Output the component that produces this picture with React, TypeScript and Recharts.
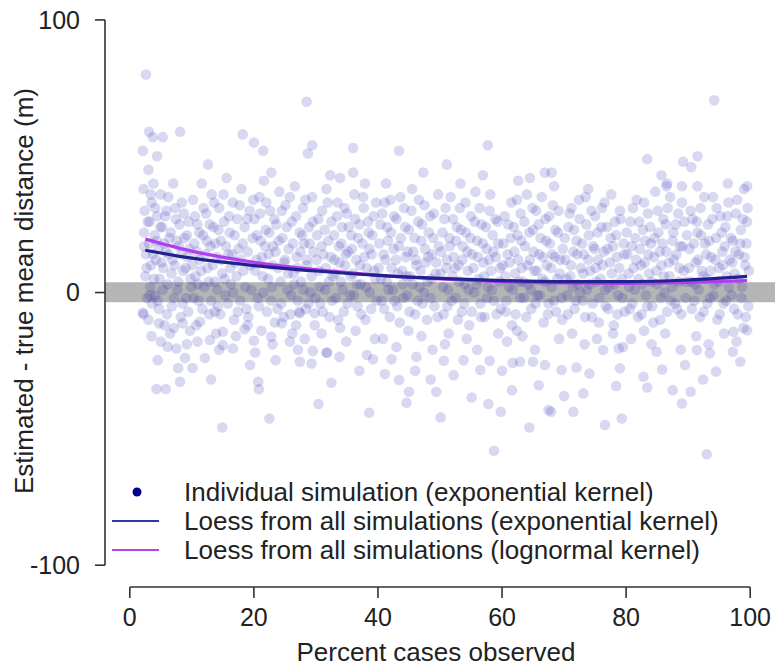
import React from "react";
import {
  ComposedChart,
  Scatter,
  Line,
  Area,
  XAxis,
  YAxis,
  ReferenceLine,
  Legend,
} from "recharts";

const FONT = "'Liberation Sans', Arial, sans-serif";

const xTicks = [0, 20, 40, 60, 80, 100];
const yTicks = [-100, 0, 100];

const sims00to10 = [
  [2.2, 38], [2.4, 30], [2.3, 22], [2.6, 14], [2.5, 6], [2.8, -2], [2.2, -8], [3.0, 45], [3.2, 26], [3.1, 18],
  [3.4, 10], [3.3, 2], [3.6, -4], [3.5, 33], [3.8, 40], [4.0, 21], [4.2, 12], [4.1, -1], [4.4, 28], [4.6, 16],
  [4.8, 5], [4.7, -6], [5.0, 36], [5.2, 24], [5.4, 9], [5.6, -12], [5.5, 18], [5.9, 30], [6.1, 3], [6.3, 14],
  [6.6, 22], [6.8, -5], [7.0, 40], [7.2, 10], [7.4, 27], [7.7, 1], [7.9, 17], [8.2, -9], [8.4, 33], [8.6, 8],
  [8.8, 20], [9.1, -2], [9.3, 13], [9.5, 26], [9.8, 5], [9.7, -14],
  [2.3, 17], [2.7, 9], [2.9, 26], [3.2, -1], [3.4, 36], [3.7, 14], [3.9, 5], [4.1, 31], [4.3, 19], [4.5, -3],
  [4.9, 24], [5.1, 11], [5.3, 1], [5.7, 28], [5.8, 15], [6.0, -8], [6.2, 35], [6.4, 20], [6.7, 7], [6.9, 12],
  [7.1, -2], [7.3, 31], [7.6, 19], [7.8, 4], [8.0, 25], [8.3, 14], [8.5, -4], [8.7, 29], [9.0, 9], [9.2, 21],
  [9.4, -7], [9.6, 16], [9.9, 2], [3.0, -10], [6.5, -15], [3.5, -16], [5.0, -18], [7.1, -13], [9.2, -19],
  [2.6, 80], [3.1, 59], [3.7, 57], [5.3, 57], [8.1, 59], [2.1, 52], [4.4, 50], [2.1, -7.4], [4.7, -11.3],
  [8.5, -11.3], [4.3, -35.4], [5.8, -35.4], [8.1, -32.7], [4.5, -24.8], [7.8, -27.7], [6.1, -19.9],
  [7.5, -20.5], [8.9, -24],
];

const sims10to20 = [
  [10.2, 34], [10.4, 18], [10.6, 6], [10.9, 25], [11.1, -3], [11.3, 12], [11.6, 40], [11.8, 21], [12.0, 2],
  [12.3, 29], [12.5, 9], [12.8, -8], [13.0, 17], [13.2, 36], [13.5, 24], [13.7, 4], [14.0, 13], [14.2, -5],
  [14.4, 31], [14.7, 19], [14.9, 7], [15.2, 26], [15.4, -1], [15.6, 42], [15.9, 14], [16.1, 22], [16.3, 3],
  [16.6, 33], [16.8, -10], [17.0, 11], [17.3, 27], [17.5, 16], [17.8, -3], [18.0, 38], [18.3, 8], [18.5, 24],
  [18.8, -6], [19.0, 15], [19.3, 30], [19.6, 1], [19.8, 20], [10.7, -12], [13.9, -15],
  [10.1, 10], [10.3, -2], [10.5, 28], [10.8, 15], [11.0, 3], [11.2, 22], [11.5, 8], [11.7, -6], [11.9, 31],
  [12.2, 14], [12.4, 19], [12.7, 4], [12.9, 25], [13.1, -3], [13.4, 10], [13.6, 33], [13.8, 18], [14.1, 1],
  [14.3, 23], [14.6, -8], [14.8, 12], [15.1, 36], [15.3, 5], [15.5, 17], [15.8, -4], [16.0, 28], [16.2, 9],
  [16.5, 14], [16.7, 0], [16.9, 21], [17.2, 6], [17.4, -7], [17.7, 32], [17.9, 12], [18.2, 18], [18.6, 2],
  [18.9, 27], [19.1, -9], [19.5, 10], [19.9, 34], [10.9, -18], [14.4, -21], [17.1, -16], [19.0, -12],
  [10.1, -27.7], [11.3, -10.7], [12.1, -24], [12.6, 47], [13.1, -31.9], [12.9, -17.4], [13.7, -7],
  [14.9, -49.5], [15, -19.3], [15, -14.4], [16.6, -20.5], [18.2, 58], [18.5, -13.5], [19.4, -26.6],
];

const sims20to30 = [
  [20.1, 27], [20.4, 12], [20.6, -2], [20.9, 35], [21.1, 19], [21.4, 6], [21.6, 41], [21.9, 23], [22.1, -7],
  [22.4, 14], [22.6, 30], [22.9, 2], [23.1, 17], [23.4, -11], [23.6, 25], [23.9, 9], [24.1, 37], [24.4, -4],
  [24.6, 20], [24.9, 11], [25.1, 32], [25.4, 1], [25.6, 16], [25.9, -8], [26.1, 26], [26.4, 7], [26.6, 39],
  [26.9, 13], [27.1, -3], [27.4, 22], [27.6, 4], [27.9, 31], [28.1, 18], [28.4, -6], [28.6, 10], [28.9, 24],
  [29.1, 0], [29.4, 35], [29.6, 15], [29.8, -12], [22.8, 44], [26.2, -15],
  [20.2, 8], [20.5, 21], [20.8, -5], [21.0, 29], [21.3, 13], [21.5, 0], [21.8, 17], [22.0, 33], [22.3, 5],
  [22.5, 22], [22.8, -3], [23.0, 10], [23.3, 27], [23.5, 15], [23.8, -6], [24.0, 19], [24.3, 4], [24.5, 30],
  [24.8, -9], [25.0, 12], [25.3, 24], [25.5, 7], [25.8, 35], [26.0, -1], [26.3, 18], [26.5, 3], [26.8, 28],
  [27.0, 9], [27.3, -7], [27.5, 15], [27.8, 21], [28.0, 1], [28.3, 34], [28.5, 12], [28.8, -4], [29.0, 18],
  [29.3, 6], [29.5, 26], [29.9, -2], [21.2, -14], [23.0, -19], [26.8, -12], [28.2, -17],
  [20, 55], [21.5, 52], [28.5, 70], [29.4, 54], [28.7, 51], [20.7, -32.7], [20.8, -35.5], [22.5, -46.2],
  [20.2, -22], [20, -17.7], [22.8, -16.2], [23.5, -24.8], [24.5, -11.3], [25.8, -18], [27.1, -21],
  [27.4, -25.4], [27.4, -7.6], [29.3, -26], [29.5, -21.4], [29.8, -7.6],
];

const sims30to40 = [
  [30.2, 21], [30.5, 8], [30.7, -4], [31.0, 30], [31.2, 14], [31.5, 1], [31.7, 38], [32.0, 19], [32.2, -9],
  [32.5, 26], [32.7, 6], [33.0, 12], [33.2, -2], [33.5, 33], [33.7, 17], [34.0, 4], [34.2, 24], [34.5, -7],
  [34.7, 10], [35.0, 29], [35.2, 15], [35.5, -1], [35.7, 21], [36.0, 7], [36.2, 36], [36.5, 12], [36.7, -5],
  [37.0, 25], [37.2, 3], [37.5, 18], [37.7, 31], [38.0, -10], [38.2, 9], [38.5, 22], [38.7, 0], [39.0, 14],
  [39.3, 28], [39.6, 5], [39.8, -3], [33.9, -13], [37.9, 40],
  [30.1, 12], [30.4, 27], [30.6, 2], [30.9, 17], [31.1, -7], [31.4, 23], [31.6, 9], [31.9, 33], [32.1, 4],
  [32.4, 13], [32.6, -3], [32.9, 21], [33.1, 7], [33.4, 28], [33.6, -10], [33.8, 11], [34.1, 18], [34.3, 1],
  [34.6, 31], [34.8, 14], [35.1, -4], [35.3, 24], [35.6, 6], [35.8, 16], [36.1, -1], [36.3, 27], [36.6, 3],
  [36.8, 20], [37.1, 10], [37.3, -8], [37.6, 35], [37.8, 13], [38.1, 2], [38.4, 26], [38.6, 16], [38.9, -6],
  [39.1, 21], [39.4, 8], [39.7, 33], [30.9, -15], [34.9, -18], [36.4, -14], [39.5, -17],
  [30.4, -40.9], [31.8, -22], [32.3, 43], [33.9, 42], [36, 44], [36, 53], [32.5, -33.1], [31.7, -22.1],
  [33.8, -23.6], [37, -28.7], [38.2, -22.9], [39.2, -24.5], [38.6, -44.1],
];

const sims40to50 = [
  [40.2, 18], [40.5, 5], [40.7, 29], [41.0, -6], [41.2, 12], [41.5, 24], [41.7, 1], [42.0, 34], [42.2, 9],
  [42.5, 16], [42.7, -3], [43.0, 27], [43.2, 7], [43.5, -11], [43.7, 20], [44.0, 3], [44.2, 31], [44.5, 13],
  [44.7, -1], [45.0, 23], [45.2, 6], [45.5, 38], [45.7, 15], [46.0, -8], [46.2, 10], [46.5, 26], [46.7, 2],
  [47.0, 19], [47.2, -4], [47.5, 32], [47.7, 11], [48.0, 4], [48.2, 22], [48.5, -2], [48.7, 14], [49.0, 29],
  [49.3, 7], [49.6, -9], [49.8, 17], [44.9, -14], [41.3, 40],
  [40.1, 9], [40.4, 25], [40.6, -3], [40.9, 14], [41.1, 33], [41.4, 4], [41.6, 19], [41.9, -9], [42.1, 22],
  [42.4, 1], [42.6, 28], [42.9, 12], [43.1, -5], [43.4, 17], [43.6, 35], [43.9, 8], [44.1, -2], [44.4, 24],
  [44.6, 6], [44.8, 15], [45.1, -7], [45.4, 30], [45.6, 3], [45.9, 20], [46.1, 12], [46.4, -3], [46.6, 34],
  [46.9, 8], [47.1, 25], [47.4, 0], [47.6, 16], [47.9, -10], [48.1, 13], [48.4, 28], [48.6, 5], [48.9, 20],
  [49.1, -5], [49.4, 11], [49.7, 36], [40.8, -17], [43.0, -20], [47.0, -16], [48.8, -21],
  [43.4, 52], [47.3, 44], [41.1, -29.9], [42.2, -24.5], [43.4, -32.1], [44.6, -40.4], [45, -36.4],
  [46, -28.7], [46.2, -23.6], [48.5, -31.9], [49.4, -36.4],
];

const sims50to60 = [
  [50.2, 15], [50.5, 2], [50.7, 27], [51.0, 9], [51.2, -5], [51.5, 20], [51.7, 35], [52.0, 6], [52.2, 13],
  [52.5, -2], [52.7, 24], [53.0, 10], [53.2, 31], [53.5, -7], [53.7, 17], [54.0, 3], [54.2, 22], [54.5, 8],
  [54.7, -12], [55.0, 28], [55.2, 14], [55.5, 0], [55.7, 37], [56.0, 19], [56.2, 5], [56.5, -4], [56.7, 25],
  [57.0, 11], [57.2, -9], [57.5, 16], [57.7, 2], [58.0, 30], [58.2, 8], [58.5, 21], [58.7, -3], [59.0, 13],
  [59.3, 26], [59.6, 4], [59.8, -6], [53.3, 40], [51.4, -15],
  [50.1, 7], [50.4, 22], [50.6, -8], [50.9, 31], [51.1, 12], [51.3, 1], [51.6, 17], [51.9, -3], [52.1, 27],
  [52.4, 9], [52.6, 19], [52.9, -10], [53.1, 4], [53.4, 23], [53.6, 12], [53.9, -4], [54.1, 33], [54.4, 15],
  [54.6, 1], [54.9, 20], [55.1, -7], [55.4, 9], [55.6, 26], [55.9, 3], [56.1, 13], [56.4, 31], [56.6, -9],
  [56.9, 18], [57.1, 6], [57.4, 24], [57.6, -2], [57.9, 12], [58.1, 36], [58.4, 1], [58.6, 15], [58.9, 27],
  [59.1, -8], [59.4, 18], [59.7, 9], [50.8, -19], [54.3, -17], [56.0, -21], [59.4, -15],
  [51.1, 47], [56.9, 43], [57.7, 54], [50.1, -45.8], [50.6, -25], [52.2, -30.3], [53.8, -24.8],
  [55.1, -38.5], [56.5, -28.4], [57.8, -40.9], [58, -25], [58.7, -58],
];

const sims60to70 = [
  [60.2, 18], [60.5, 6], [60.7, -3], [61.0, 25], [61.2, 11], [61.5, 33], [61.7, 1], [62.0, 15], [62.2, -8],
  [62.5, 21], [62.7, 4], [63.0, 29], [63.2, 9], [63.5, -2], [63.7, 17], [64.0, 36], [64.2, 3], [64.5, 12],
  [64.7, -6], [65.0, 23], [65.2, 8], [65.5, 30], [65.7, -1], [66.0, 14], [66.2, 20], [66.5, 5], [66.7, -11],
  [67.0, 27], [67.2, 10], [67.5, -4], [67.7, 18], [68.0, 2], [68.2, 32], [68.5, 13], [68.7, -7], [69.0, 22],
  [69.3, 7], [69.6, -2], [69.8, 16], [62.4, -14], [68.4, 39],
  [60.1, 10], [60.4, 28], [60.6, -7], [60.9, 14], [61.1, 2], [61.4, 20], [61.6, -12], [61.9, 24], [62.1, 7],
  [62.4, 34], [62.6, 12], [62.9, -2], [63.1, 19], [63.4, 4], [63.6, 26], [63.9, -9], [64.1, 10], [64.4, 22],
  [64.6, 1], [64.9, 31], [65.1, 15], [65.4, -4], [65.6, 8], [65.9, 25], [66.1, -1], [66.4, 35], [66.6, 13],
  [66.9, 4], [67.1, 19], [67.4, -8], [67.6, 28], [67.9, 9], [68.1, 14], [68.4, -3], [68.6, 23], [68.9, 5],
  [69.1, 30], [69.4, 12], [69.7, -10], [60.8, -18], [63.3, -16], [65.3, -21], [69.2, -17],
  [62.6, 41], [64.5, 42], [66.9, 44], [68, 44], [59.8, -43.7], [60, -28.7], [61.6, -35.8], [61.7, -25.8],
  [62.9, -25.4], [64.4, -49.5], [65, -25.4], [65.9, -34], [66.9, -26.6], [67.5, -43.1], [67.9, -43.7],
  [69.6, -28.4],
];

const sims70to80 = [
  [70.2, 12], [70.5, -1], [70.7, 24], [71.0, 6], [71.2, 31], [71.5, 15], [71.7, -6], [72.0, 19], [72.2, 3],
  [72.5, 27], [72.7, 9], [73.0, -3], [73.2, 14], [73.5, 35], [73.7, 1], [74.0, 21], [74.2, 8], [74.5, -9],
  [74.7, 17], [75.0, 28], [75.2, 4], [75.5, 12], [75.7, -2], [76.0, 24], [76.2, 10], [76.5, 33], [76.7, -5],
  [77.0, 16], [77.2, 2], [77.5, 20], [77.7, 7], [78.0, -12], [78.2, 26], [78.5, 13], [78.7, -1], [79.0, 30],
  [79.3, 5], [79.6, 18], [79.8, -7], [73.9, 38], [77.9, -15],
  [70.1, 20], [70.4, 5], [70.6, -8], [70.9, 29], [71.1, 10], [71.4, 2], [71.6, 23], [71.9, -3], [72.1, 14],
  [72.4, 34], [72.6, 0], [72.9, 18], [73.1, 7], [73.4, -9], [73.6, 25], [73.9, 12], [74.1, 3], [74.4, 30],
  [74.6, -4], [74.9, 16], [75.1, 9], [75.4, 22], [75.6, -11], [75.9, 5], [76.1, 31], [76.4, 15], [76.6, 1],
  [76.9, 24], [77.1, -6], [77.4, 11], [77.6, 36], [77.9, 17], [78.1, 3], [78.4, 21], [78.6, -8], [78.9, 9],
  [79.1, 27], [79.4, -2], [79.7, 14], [71.3, -15], [73.3, -19], [75.3, -17], [79.5, -20],
  [70, -38], [71.5, -43.7], [72, -27.5], [73.1, -37], [74.1, -29.7], [76.3, -21.1], [76.6, -48.6],
  [78.4, -34.3], [78.8, -20.5], [79, -27.8], [79.3, -46.2],
];

const sims80to90 = [
  [80.2, 14], [80.5, 2], [80.7, 26], [81.0, -4], [81.2, 9], [81.5, 20], [81.7, 34], [82.0, 5], [82.2, 16],
  [82.5, -8], [82.7, 23], [83.0, 11], [83.2, -1], [83.5, 29], [83.7, 7], [84.0, 18], [84.2, -5], [84.5, 13],
  [84.7, 37], [85.0, 3], [85.2, 22], [85.5, -10], [85.7, 10], [86.0, 27], [86.2, 0], [86.5, 15], [86.7, 31],
  [87.0, 6], [87.2, -3], [87.5, 19], [87.7, 12], [88.0, 25], [88.2, -6], [88.5, 4], [88.7, 17], [89.0, 33],
  [89.3, 8], [89.6, -2], [89.8, 21], [82.9, -14], [86.6, 40],
  [80.1, 22], [80.4, 7], [80.6, -6], [80.9, 17], [81.1, 31], [81.4, 1], [81.6, 12], [81.9, -9], [82.1, 26],
  [82.4, 10], [82.6, 3], [82.9, 33], [83.1, 19], [83.4, -5], [83.6, 14], [83.9, 24], [84.1, 4], [84.4, -11],
  [84.6, 20], [84.9, 8], [85.1, 30], [85.4, 15], [85.6, -2], [85.9, 18], [86.1, 6], [86.4, 25], [86.6, -7],
  [86.9, 11], [87.1, 35], [87.4, 2], [87.6, 22], [87.9, -4], [88.1, 14], [88.4, 29], [88.6, 9], [88.9, -8],
  [89.1, 17], [89.4, 26], [89.7, 4], [80.8, -17], [84.1, -19], [86.3, -15], [88.8, -21],
  [83.4, 49], [85.7, 43], [86.5, 39], [89, 39], [89.2, 48], [82.8, -30.9], [83.4, -34.8], [84.9, -21.7],
  [85.8, -28.2], [87.5, -35.8], [89, -40.7], [89.5, -26.6],
];

const sims90to100 = [
  [90.2, 16], [90.5, 4], [90.7, 27], [91.0, -3], [91.2, 11], [91.5, 22], [91.7, 1], [92.0, 31], [92.2, 8],
  [92.5, -7], [92.7, 18], [93.0, 5], [93.2, 25], [93.5, -2], [93.7, 13], [94.0, 35], [94.2, 3], [94.5, 20],
  [94.7, -10], [95.0, 9], [95.2, 28], [95.5, 15], [95.7, -4], [96.0, 24], [96.2, 6], [96.5, 33], [96.7, 12],
  [97.0, -1], [97.2, 19], [97.5, 7], [97.7, 29], [98.0, -8], [98.2, 14], [98.5, 23], [98.7, 2], [99.0, 38],
  [99.2, 10], [99.5, 26], [99.7, -5], [99.4, 18], [98.9, -13], [96.4, 40],
  [90.1, 9], [90.4, 30], [90.6, -6], [90.9, 18], [91.1, 3], [91.4, 26], [91.6, 12], [91.9, -9], [92.1, 21],
  [92.4, 6], [92.6, 35], [92.9, 14], [93.1, -4], [93.4, 19], [93.6, 8], [93.9, 27], [94.1, -1], [94.4, 12],
  [94.6, 31], [94.9, 4], [95.1, -8], [95.4, 22], [95.6, 10], [95.9, 17], [96.1, -3], [96.3, 28], [96.6, 2],
  [96.9, 20], [97.1, 11], [97.4, -6], [97.6, 15], [97.9, 34], [98.1, 5], [98.4, 18], [98.6, -2], [98.8, 27],
  [99.1, 13], [99.3, -9], [99.6, 31], [99.8, 8], [91.3, -16], [93.3, -19], [95.8, -15], [97.8, -18],
  [90.4, -36.4], [90.5, 46], [91.4, -21.1], [91.5, 50], [91.5, 39], [92.4, -31.9], [93, -59.3],
  [93.5, -22.3], [94.2, 70.5], [94.5, -29], [97.2, -21.7], [97.3, -14.4], [98.4, -25.4], [99.5, -13.8],
  [99.5, 39],
];

// loess curves
const loessX = [2.5, 10, 20, 30, 40, 50, 60, 70, 80, 90, 99.5];
const loessExponential = [15.5, 12.6, 9.9, 7.9, 6.3, 5.2, 4.4, 4.0, 4.0, 4.6, 5.9];
const loessLognormal = [19.6, 15.2, 11.1, 8.4, 6.4, 5.0, 4.0, 3.5, 3.4, 3.7, 4.4];

// grey band around zero
const bandX = [-4, 104];
const bandLow = -3.6;
const bandHigh = 3.8;

const simPoints = [
  ...sims00to10, ...sims10to20, ...sims20to30, ...sims30to40, ...sims40to50,
  ...sims50to60, ...sims60to70, ...sims70to80, ...sims80to90, ...sims90to100,
].map(([x, y]) => ({ x, y }));
const expData = loessX.map((x, i) => ({ x, y: loessExponential[i] }));
const lognData = loessX.map((x, i) => ({ x, y: loessLognormal[i] }));
const bandData = bandX.map((x) => ({ x, band: [bandLow, bandHigh] }));

const SimDot = (props: any) => (
  <circle cx={props.cx} cy={props.cy} r={5.3} fill="#2626b4" fillOpacity={0.18} />
);

const renderLegend = () => (
  <svg width={777} height={100} style={{ display: "block" }}>
    <circle cx={137} cy={22} r={4.5} fill="#00008b" />
    <line x1={112} x2={159} y1={51} y2={51} stroke="#3535a8" strokeWidth={2} />
    <line x1={112} x2={159} y1={80} y2={80} stroke="#b04ae6" strokeWidth={2} />
    <g fontFamily={FONT} fontSize={26} fill="#222">
      <text x={184} y={31}>Individual simulation (exponential kernel)</text>
      <text x={184} y={60}>Loess from all simulations (exponential kernel)</text>
      <text x={184} y={89}>Loess from all simulations (lognormal kernel)</text>
    </g>
  </svg>
);

export default function App() {
  return (
    <div style={{ position: "absolute", left: 0, top: 0, width: 777, height: 668, background: "#fff" }}>
      <ComposedChart width={777} height={668} margin={{ top: 0, right: 2, bottom: 0, left: 0 }}>
        <XAxis
          type="number"
          dataKey="x"
          domain={[-4, 104]}
          allowDataOverflow
          ticks={xTicks}
          axisLine={false}
          tickLine={{ stroke: "#333", strokeWidth: 1.6 }}
          tickSize={11}
          tickMargin={10}
          tick={{ fontSize: 25, fill: "#222", fontFamily: FONT }}
          height={81}
          label={{
            content: () => (
              <text x={436} y={661} textAnchor="middle" fontSize={26} fill="#222" fontFamily={FONT}>
                Percent cases observed
              </text>
            ),
          }}
        />
        <YAxis
          type="number"
          dataKey="y"
          domain={[-108, 107.3]}
          allowDataOverflow
          ticks={yTicks}
          axisLine={false}
          tickLine={{ stroke: "#333", strokeWidth: 1.6 }}
          tickSize={10}
          tickMargin={15}
          tick={{ fontSize: 25, fill: "#222", fontFamily: FONT }}
          width={105}
          label={{
            content: () => (
              <text
                x={33}
                y={291}
                transform="rotate(-90 33 291)"
                textAnchor="middle"
                fontSize={26}
                fill="#222"
                fontFamily={FONT}
              >
                Estimated - true mean distance (m)
              </text>
            ),
          }}
        />
        <Area
          data={bandData}
          dataKey="band"
          type="linear"
          fill="#b5b5b5"
          fillOpacity={1}
          stroke="none"
          dot={false}
          activeDot={false}
          isAnimationActive={false}
        />
        <ReferenceLine
          segment={[{ x: 0, y: -108 }, { x: 100, y: -108 }]}
          stroke="#333"
          strokeWidth={1.6}
          ifOverflow="visible"
        />
        <ReferenceLine
          segment={[{ x: -4, y: -100 }, { x: -4, y: 100 }]}
          stroke="#333"
          strokeWidth={1.6}
          ifOverflow="visible"
        />
        <Scatter data={simPoints} shape={SimDot} isAnimationActive={false} />
        <Line
          data={lognData}
          dataKey="y"
          type="monotone"
          stroke="#b13ef0"
          strokeWidth={3.2}
          dot={false}
          isAnimationActive={false}
          zIndex={700}
        />
        <Line
          data={expData}
          dataKey="y"
          type="monotone"
          stroke="#22228e"
          strokeWidth={3.2}
          dot={false}
          isAnimationActive={false}
          zIndex={710}
        />
        <Legend
          layout="vertical"
          align="center"
          verticalAlign="middle"
          content={renderLegend}
          wrapperStyle={{ position: "absolute", left: 0, top: 470, width: 777 }}
        />
      </ComposedChart>
    </div>
  );
}
